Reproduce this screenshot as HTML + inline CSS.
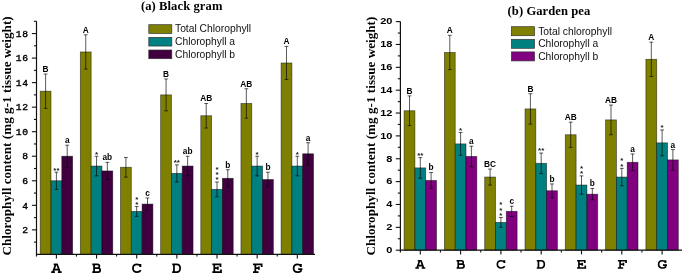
<!DOCTYPE html>
<html><head><meta charset="utf-8"><style>
html,body{margin:0;padding:0;background:#fff;}
svg{display:block;font-family:"Liberation Sans",sans-serif;will-change:transform;}
</style></head><body>
<svg width="685" height="276" viewBox="0 0 685 276">
<rect width="685" height="276" fill="#fff"/>
<rect x="40.20" y="91.21" width="10.80" height="163.19" fill="#808000" stroke="#000" stroke-opacity="0.55" stroke-width="0.8"/>
<path d="M45.60 74.03V108.39M43.70 74.03H47.50M43.70 108.39H47.50" stroke="#000" stroke-width="0.65" fill="none"/>
<text x="45.60" y="72.03" font-size="8.3" font-weight="bold" text-anchor="middle">B</text>
<rect x="51.00" y="180.78" width="10.80" height="73.62" fill="#008080" stroke="#000" stroke-opacity="0.55" stroke-width="0.8"/>
<path d="M56.40 172.19V189.37M54.50 172.19H58.30M54.50 189.37H58.30" stroke="#000" stroke-width="0.65" fill="none"/>
<text x="56.40" y="172.59" font-size="8" fill="#1a1a1a" font-weight="bold" text-anchor="middle">**</text>
<rect x="61.80" y="156.24" width="10.80" height="98.16" fill="#400040" stroke="#000" stroke-opacity="0.55" stroke-width="0.8"/>
<path d="M67.20 145.20V167.28M65.30 145.20H69.10M65.30 167.28H69.10" stroke="#000" stroke-width="0.65" fill="none"/>
<text x="67.20" y="143.20" font-size="8.3" font-weight="bold" text-anchor="middle">a</text>
<rect x="80.35" y="51.95" width="10.80" height="202.45" fill="#808000" stroke="#000" stroke-opacity="0.55" stroke-width="0.8"/>
<path d="M85.75 34.77V69.12M83.85 34.77H87.65M83.85 69.12H87.65" stroke="#000" stroke-width="0.65" fill="none"/>
<text x="85.75" y="32.77" font-size="8.3" font-weight="bold" text-anchor="middle">A</text>
<rect x="91.15" y="166.06" width="10.80" height="88.34" fill="#008080" stroke="#000" stroke-opacity="0.55" stroke-width="0.8"/>
<path d="M96.55 156.24V175.87M94.65 156.24H98.45M94.65 175.87H98.45" stroke="#000" stroke-width="0.65" fill="none"/>
<text x="96.55" y="156.64" font-size="8" fill="#1a1a1a" font-weight="bold" text-anchor="middle">*</text>
<rect x="101.95" y="170.96" width="10.80" height="83.44" fill="#400040" stroke="#000" stroke-opacity="0.55" stroke-width="0.8"/>
<path d="M107.35 162.38V179.55M105.45 162.38H109.25M105.45 179.55H109.25" stroke="#000" stroke-width="0.65" fill="none"/>
<text x="107.35" y="160.38" font-size="8.3" font-weight="bold" text-anchor="middle">ab</text>
<rect x="120.50" y="167.28" width="10.80" height="87.12" fill="#808000" stroke="#000" stroke-opacity="0.55" stroke-width="0.8"/>
<path d="M125.90 157.47V177.10M124.00 157.47H127.80M124.00 177.10H127.80" stroke="#000" stroke-width="0.65" fill="none"/>
<rect x="131.30" y="211.46" width="10.80" height="42.94" fill="#008080" stroke="#000" stroke-opacity="0.55" stroke-width="0.8"/>
<path d="M136.70 206.55V216.36M134.80 206.55H138.60M134.80 216.36H138.60" stroke="#000" stroke-width="0.65" fill="none"/>
<text x="136.70" y="206.95" font-size="8" fill="#1a1a1a" font-weight="bold" text-anchor="middle">*</text>
<text x="136.70" y="201.55" font-size="8" fill="#1a1a1a" font-weight="bold" text-anchor="middle">*</text>
<rect x="142.10" y="204.09" width="10.80" height="50.31" fill="#400040" stroke="#000" stroke-opacity="0.55" stroke-width="0.8"/>
<path d="M147.50 197.96V210.23M145.60 197.96H149.40M145.60 210.23H149.40" stroke="#000" stroke-width="0.65" fill="none"/>
<text x="147.50" y="195.96" font-size="8.3" font-weight="bold" text-anchor="middle">c</text>
<rect x="160.65" y="94.89" width="10.80" height="159.51" fill="#808000" stroke="#000" stroke-opacity="0.55" stroke-width="0.8"/>
<path d="M166.05 78.94V110.84M164.15 78.94H167.95M164.15 110.84H167.95" stroke="#000" stroke-width="0.65" fill="none"/>
<text x="166.05" y="76.94" font-size="8.3" font-weight="bold" text-anchor="middle">B</text>
<rect x="171.45" y="173.42" width="10.80" height="80.98" fill="#008080" stroke="#000" stroke-opacity="0.55" stroke-width="0.8"/>
<path d="M176.85 164.83V182.01M174.95 164.83H178.75M174.95 182.01H178.75" stroke="#000" stroke-width="0.65" fill="none"/>
<text x="176.85" y="165.23" font-size="8" fill="#1a1a1a" font-weight="bold" text-anchor="middle">**</text>
<rect x="182.25" y="166.06" width="10.80" height="88.34" fill="#400040" stroke="#000" stroke-opacity="0.55" stroke-width="0.8"/>
<path d="M187.65 156.24V175.87M185.75 156.24H189.55M185.75 175.87H189.55" stroke="#000" stroke-width="0.65" fill="none"/>
<text x="187.65" y="154.24" font-size="8.3" font-weight="bold" text-anchor="middle">ab</text>
<rect x="200.80" y="115.75" width="10.80" height="138.65" fill="#808000" stroke="#000" stroke-opacity="0.55" stroke-width="0.8"/>
<path d="M206.20 103.48V128.02M204.30 103.48H208.10M204.30 128.02H208.10" stroke="#000" stroke-width="0.65" fill="none"/>
<text x="206.20" y="101.48" font-size="8.3" font-weight="bold" text-anchor="middle">AB</text>
<rect x="211.60" y="189.37" width="10.80" height="65.03" fill="#008080" stroke="#000" stroke-opacity="0.55" stroke-width="0.8"/>
<path d="M217.00 182.01V196.73M215.10 182.01H218.90M215.10 196.73H218.90" stroke="#000" stroke-width="0.65" fill="none"/>
<text x="217.00" y="182.41" font-size="8" fill="#1a1a1a" font-weight="bold" text-anchor="middle">*</text>
<text x="217.00" y="177.01" font-size="8" fill="#1a1a1a" font-weight="bold" text-anchor="middle">*</text>
<text x="217.00" y="171.61" font-size="8" fill="#1a1a1a" font-weight="bold" text-anchor="middle">*</text>
<rect x="222.40" y="178.33" width="10.80" height="76.07" fill="#400040" stroke="#000" stroke-opacity="0.55" stroke-width="0.8"/>
<path d="M227.80 169.74V186.92M225.90 169.74H229.70M225.90 186.92H229.70" stroke="#000" stroke-width="0.65" fill="none"/>
<text x="227.80" y="167.74" font-size="8.3" font-weight="bold" text-anchor="middle">b</text>
<rect x="240.95" y="103.48" width="10.80" height="150.92" fill="#808000" stroke="#000" stroke-opacity="0.55" stroke-width="0.8"/>
<path d="M246.35 88.76V118.20M244.45 88.76H248.25M244.45 118.20H248.25" stroke="#000" stroke-width="0.65" fill="none"/>
<text x="246.35" y="86.76" font-size="8.3" font-weight="bold" text-anchor="middle">AB</text>
<rect x="251.75" y="166.06" width="10.80" height="88.34" fill="#008080" stroke="#000" stroke-opacity="0.55" stroke-width="0.8"/>
<path d="M257.15 156.24V175.87M255.25 156.24H259.05M255.25 175.87H259.05" stroke="#000" stroke-width="0.65" fill="none"/>
<text x="257.15" y="156.64" font-size="8" fill="#1a1a1a" font-weight="bold" text-anchor="middle">*</text>
<rect x="262.55" y="179.55" width="10.80" height="74.85" fill="#400040" stroke="#000" stroke-opacity="0.55" stroke-width="0.8"/>
<path d="M267.95 172.19V186.91M266.05 172.19H269.85M266.05 186.91H269.85" stroke="#000" stroke-width="0.65" fill="none"/>
<text x="267.95" y="170.19" font-size="8.3" font-weight="bold" text-anchor="middle">b</text>
<rect x="281.10" y="62.99" width="10.80" height="191.41" fill="#808000" stroke="#000" stroke-opacity="0.55" stroke-width="0.8"/>
<path d="M286.50 46.42V79.55M284.60 46.42H288.40M284.60 79.55H288.40" stroke="#000" stroke-width="0.65" fill="none"/>
<text x="286.50" y="44.42" font-size="8.3" font-weight="bold" text-anchor="middle">A</text>
<rect x="291.90" y="166.06" width="10.80" height="88.34" fill="#008080" stroke="#000" stroke-opacity="0.55" stroke-width="0.8"/>
<path d="M297.30 156.24V175.87M295.40 156.24H299.20M295.40 175.87H299.20" stroke="#000" stroke-width="0.65" fill="none"/>
<text x="297.30" y="156.64" font-size="8" fill="#1a1a1a" font-weight="bold" text-anchor="middle">*</text>
<rect x="302.70" y="153.79" width="10.80" height="100.61" fill="#400040" stroke="#000" stroke-opacity="0.55" stroke-width="0.8"/>
<path d="M308.10 142.74V164.83M306.20 142.74H310.00M306.20 164.83H310.00" stroke="#000" stroke-width="0.65" fill="none"/>
<text x="308.10" y="140.74" font-size="8.3" font-weight="bold" text-anchor="middle">a</text>
<path d="M36.5 21.27V256.6M35.9 254.4H315" stroke="#111" stroke-width="1.2" fill="none"/>
<path d="M31.9 229.86H36.5" stroke="#111" stroke-width="1.1"/>
<text x="28.5" y="233.06" font-family="Liberation Mono" font-size="9.7" stroke="#000" stroke-width="0.4" letter-spacing="0.5" text-anchor="end">2</text>
<path d="M31.9 205.32H36.5" stroke="#111" stroke-width="1.1"/>
<text x="28.5" y="208.52" font-family="Liberation Mono" font-size="9.7" stroke="#000" stroke-width="0.4" letter-spacing="0.5" text-anchor="end">4</text>
<path d="M31.9 180.78H36.5" stroke="#111" stroke-width="1.1"/>
<text x="28.5" y="183.98" font-family="Liberation Mono" font-size="9.7" stroke="#000" stroke-width="0.4" letter-spacing="0.5" text-anchor="end">6</text>
<path d="M31.9 156.24H36.5" stroke="#111" stroke-width="1.1"/>
<text x="28.5" y="159.44" font-family="Liberation Mono" font-size="9.7" stroke="#000" stroke-width="0.4" letter-spacing="0.5" text-anchor="end">8</text>
<path d="M31.9 131.70H36.5" stroke="#111" stroke-width="1.1"/>
<text x="28.5" y="134.90" font-family="Liberation Mono" font-size="9.7" stroke="#000" stroke-width="0.4" letter-spacing="0.5" text-anchor="end">10</text>
<path d="M31.9 107.16H36.5" stroke="#111" stroke-width="1.1"/>
<text x="28.5" y="110.36" font-family="Liberation Mono" font-size="9.7" stroke="#000" stroke-width="0.4" letter-spacing="0.5" text-anchor="end">12</text>
<path d="M31.9 82.62H36.5" stroke="#111" stroke-width="1.1"/>
<text x="28.5" y="85.82" font-family="Liberation Mono" font-size="9.7" stroke="#000" stroke-width="0.4" letter-spacing="0.5" text-anchor="end">14</text>
<path d="M31.9 58.08H36.5" stroke="#111" stroke-width="1.1"/>
<text x="28.5" y="61.28" font-family="Liberation Mono" font-size="9.7" stroke="#000" stroke-width="0.4" letter-spacing="0.5" text-anchor="end">16</text>
<path d="M31.9 33.54H36.5" stroke="#111" stroke-width="1.1"/>
<text x="28.5" y="36.74" font-family="Liberation Mono" font-size="9.7" stroke="#000" stroke-width="0.4" letter-spacing="0.5" text-anchor="end">18</text>
<path d="M33.9 242.13H36.5" stroke="#111" stroke-width="1.1"/>
<path d="M33.9 217.59H36.5" stroke="#111" stroke-width="1.1"/>
<path d="M33.9 193.05H36.5" stroke="#111" stroke-width="1.1"/>
<path d="M33.9 168.51H36.5" stroke="#111" stroke-width="1.1"/>
<path d="M33.9 143.97H36.5" stroke="#111" stroke-width="1.1"/>
<path d="M33.9 119.43H36.5" stroke="#111" stroke-width="1.1"/>
<path d="M33.9 94.89H36.5" stroke="#111" stroke-width="1.1"/>
<path d="M33.9 70.35H36.5" stroke="#111" stroke-width="1.1"/>
<path d="M33.9 45.81H36.5" stroke="#111" stroke-width="1.1"/>
<path d="M33.9 21.27H36.5" stroke="#111" stroke-width="1.1"/>
<path d="M56.40 254.4v4.2" stroke="#111" stroke-width="1.1"/>
<path transform="translate(56.40,263.60) scale(1.0,1.0)" d="M-5.25 8.525H-1.5M1.5 8.525H5.25M-3.45 8.525L-0.75 0.875M3.45 8.525L0.75 0.875M-2.7 0.875H1.3M-2.3 6.0H2.3" fill="none" stroke="#000" stroke-width="1.75" stroke-linejoin="miter"/>
<path d="M96.55 254.4v4.2" stroke="#111" stroke-width="1.1"/>
<path d="M76.47 254.4v2.2" stroke="#111" stroke-width="1.1"/>
<path transform="translate(96.65,263.60) scale(1.0,1.0)" d="M-4.35 0.875H0.9A1.7875 1.7875 0 0 1 0.9 4.45M-2.6 0.875V8.525M-2.6 4.45H1.5A2.0375 2.0375 0 0 1 1.5 8.525H-4.35" fill="none" stroke="#000" stroke-width="1.75" stroke-linejoin="miter"/>
<path d="M136.70 254.4v4.2" stroke="#111" stroke-width="1.1"/>
<path d="M116.62 254.4v2.2" stroke="#111" stroke-width="1.1"/>
<path transform="translate(136.70,263.60) scale(1.0,1.0)" d="M3.75 0.3V3.3M3.6 2.6C2.9 1.4 1.8 0.875 0.3 0.875C-2.2 0.875 -3.75 2.3 -3.75 4.7C-3.75 7.1 -2.2 8.525 0.4 8.525C2.0 8.525 3.3 7.9 4.1 6.7" fill="none" stroke="#000" stroke-width="1.75" stroke-linejoin="miter"/>
<path d="M176.85 254.4v4.2" stroke="#111" stroke-width="1.1"/>
<path d="M156.78 254.4v2.2" stroke="#111" stroke-width="1.1"/>
<path transform="translate(176.65,263.60) scale(1.0,1.0)" d="M-4.45 0.875H0C2.4 0.875 3.5 2.5 3.5 4.7C3.5 6.9 2.4 8.525 0 8.525H-4.45M-2.7 0.875V8.525" fill="none" stroke="#000" stroke-width="1.75" stroke-linejoin="miter"/>
<path d="M217.00 254.4v4.2" stroke="#111" stroke-width="1.1"/>
<path d="M196.93 254.4v2.2" stroke="#111" stroke-width="1.1"/>
<path transform="translate(216.90,263.60) scale(1.0,1.0)" d="M-4.55 0.875H4.0M3.6 0V3.3M-4.55 8.525H4.55M4.1 9.4V5.9M-2.6 0.875V8.525M-2.6 4.5H1.3M0.9 2.9V6.1" fill="none" stroke="#000" stroke-width="1.75" stroke-linejoin="miter"/>
<path d="M257.15 254.4v4.2" stroke="#111" stroke-width="1.1"/>
<path d="M237.07 254.4v2.2" stroke="#111" stroke-width="1.1"/>
<path transform="translate(257.55,263.60) scale(1.0,1.0)" d="M-4.55 0.875H4.55M4.1 0V3.3M-4.55 8.525H1.0M-2.2 0.875V8.525M-2.2 4.6H1.7M1.3 3.0V6.2" fill="none" stroke="#000" stroke-width="1.75" stroke-linejoin="miter"/>
<path d="M297.30 254.4v4.2" stroke="#111" stroke-width="1.1"/>
<path d="M277.22 254.4v2.2" stroke="#111" stroke-width="1.1"/>
<path transform="translate(297.60,263.60) scale(1.0,1.0)" d="M3.3 0.3V3.3M3.2 2.6C2.5 1.4 1.5 0.875 0.0 0.875C-2.5 0.875 -4.0 2.3 -4.0 4.7C-4.0 7.1 -2.5 8.525 0.0 8.525C1.4 8.525 2.6 8.3 3.3 7.6V5.5M0.6 5.5H4.85" fill="none" stroke="#000" stroke-width="1.75" stroke-linejoin="miter"/>
<text x="140.9" y="10.4" font-family="Liberation Serif" font-size="12.6" font-weight="bold" textLength="81.5" lengthAdjust="spacing">(a) Black gram</text>
<rect x="148.8" y="24.70" width="23" height="8.7" fill="#808000" stroke="#333" stroke-width="0.7"/>
<text x="175" y="32.40" font-size="10.3" fill="#111">Total Chlorophyll</text>
<rect x="148.8" y="37.35" width="23" height="8.7" fill="#008080" stroke="#333" stroke-width="0.7"/>
<text x="175" y="45.05" font-size="10.3" fill="#111">Chlorophyll a</text>
<rect x="148.8" y="50.00" width="23" height="8.7" fill="#400040" stroke="#333" stroke-width="0.7"/>
<text x="175" y="57.70" font-size="10.3" fill="#111">Chlorophyll b</text>
<text transform="translate(10.9,255.6) rotate(-90)" font-family="Liberation Serif" font-size="13.1" font-weight="bold" textLength="239.3" lengthAdjust="spacing">Chlorophyll content (mg g-1 tissue weight)</text>
<rect x="404.10" y="110.75" width="10.80" height="139.45" fill="#808000" stroke="#000" stroke-opacity="0.55" stroke-width="0.8"/>
<path d="M409.50 95.89V125.61M407.60 95.89H411.40M407.60 125.61H411.40" stroke="#000" stroke-width="0.65" fill="none"/>
<text x="409.50" y="93.89" font-size="8.3" font-weight="bold" text-anchor="middle">B</text>
<rect x="414.90" y="167.90" width="10.80" height="82.30" fill="#008080" stroke="#000" stroke-opacity="0.55" stroke-width="0.8"/>
<path d="M420.30 157.62V178.19M418.40 157.62H422.20M418.40 178.19H422.20" stroke="#000" stroke-width="0.65" fill="none"/>
<text x="420.30" y="158.02" font-size="8" fill="#1a1a1a" font-weight="bold" text-anchor="middle">**</text>
<rect x="425.70" y="180.48" width="10.80" height="69.72" fill="#800080" stroke="#000" stroke-opacity="0.55" stroke-width="0.8"/>
<path d="M431.10 172.48V188.48M429.20 172.48H433.00M429.20 188.48H433.00" stroke="#000" stroke-width="0.65" fill="none"/>
<text x="431.10" y="170.48" font-size="8.3" font-weight="bold" text-anchor="middle">b</text>
<rect x="444.40" y="52.46" width="10.80" height="197.74" fill="#808000" stroke="#000" stroke-opacity="0.55" stroke-width="0.8"/>
<path d="M449.80 35.32V69.61M447.90 35.32H451.70M447.90 69.61H451.70" stroke="#000" stroke-width="0.65" fill="none"/>
<text x="449.80" y="33.32" font-size="8.3" font-weight="bold" text-anchor="middle">A</text>
<rect x="455.20" y="143.90" width="10.80" height="106.30" fill="#008080" stroke="#000" stroke-opacity="0.55" stroke-width="0.8"/>
<path d="M460.60 132.47V155.33M458.70 132.47H462.50M458.70 155.33H462.50" stroke="#000" stroke-width="0.65" fill="none"/>
<text x="460.60" y="132.87" font-size="8" fill="#1a1a1a" font-weight="bold" text-anchor="middle">*</text>
<rect x="466.00" y="156.47" width="10.80" height="93.73" fill="#800080" stroke="#000" stroke-opacity="0.55" stroke-width="0.8"/>
<path d="M471.40 146.19V166.76M469.50 146.19H473.30M469.50 166.76H473.30" stroke="#000" stroke-width="0.65" fill="none"/>
<text x="471.40" y="144.19" font-size="8.3" font-weight="bold" text-anchor="middle">a</text>
<rect x="484.70" y="177.05" width="10.80" height="73.15" fill="#808000" stroke="#000" stroke-opacity="0.55" stroke-width="0.8"/>
<path d="M490.10 169.05V185.05M488.20 169.05H492.00M488.20 185.05H492.00" stroke="#000" stroke-width="0.65" fill="none"/>
<text x="490.10" y="167.05" font-size="8.3" font-weight="bold" text-anchor="middle">BC</text>
<rect x="495.50" y="222.43" width="10.80" height="27.77" fill="#008080" stroke="#000" stroke-opacity="0.55" stroke-width="0.8"/>
<path d="M500.90 217.51V227.34M499.00 217.51H502.80M499.00 227.34H502.80" stroke="#000" stroke-width="0.65" fill="none"/>
<text x="500.90" y="217.91" font-size="8" fill="#1a1a1a" font-weight="bold" text-anchor="middle">*</text>
<text x="500.90" y="212.61" font-size="8" fill="#1a1a1a" font-weight="bold" text-anchor="middle">*</text>
<text x="500.90" y="207.31" font-size="8" fill="#1a1a1a" font-weight="bold" text-anchor="middle">*</text>
<rect x="506.30" y="211.34" width="10.80" height="38.86" fill="#800080" stroke="#000" stroke-opacity="0.55" stroke-width="0.8"/>
<path d="M511.70 206.19V216.48M509.80 206.19H513.60M509.80 216.48H513.60" stroke="#000" stroke-width="0.65" fill="none"/>
<text x="511.70" y="204.19" font-size="8.3" font-weight="bold" text-anchor="middle">c</text>
<rect x="525.00" y="108.93" width="10.80" height="141.27" fill="#808000" stroke="#000" stroke-opacity="0.55" stroke-width="0.8"/>
<path d="M530.40 93.72V124.13M528.50 93.72H532.30M528.50 124.13H532.30" stroke="#000" stroke-width="0.65" fill="none"/>
<text x="530.40" y="91.72" font-size="8.3" font-weight="bold" text-anchor="middle">B</text>
<rect x="535.80" y="163.33" width="10.80" height="86.87" fill="#008080" stroke="#000" stroke-opacity="0.55" stroke-width="0.8"/>
<path d="M541.20 153.04V173.62M539.30 153.04H543.10M539.30 173.62H543.10" stroke="#000" stroke-width="0.65" fill="none"/>
<text x="541.20" y="153.44" font-size="8" fill="#1a1a1a" font-weight="bold" text-anchor="middle">**</text>
<rect x="546.60" y="190.76" width="10.80" height="59.44" fill="#800080" stroke="#000" stroke-opacity="0.55" stroke-width="0.8"/>
<path d="M552.00 183.91V197.62M550.10 183.91H553.90M550.10 197.62H553.90" stroke="#000" stroke-width="0.65" fill="none"/>
<text x="552.00" y="181.91" font-size="8.3" font-weight="bold" text-anchor="middle">b</text>
<rect x="565.30" y="134.76" width="10.80" height="115.44" fill="#808000" stroke="#000" stroke-opacity="0.55" stroke-width="0.8"/>
<path d="M570.70 122.18V147.33M568.80 122.18H572.60M568.80 147.33H572.60" stroke="#000" stroke-width="0.65" fill="none"/>
<text x="570.70" y="120.18" font-size="8.3" font-weight="bold" text-anchor="middle">AB</text>
<rect x="576.10" y="185.05" width="10.80" height="65.15" fill="#008080" stroke="#000" stroke-opacity="0.55" stroke-width="0.8"/>
<path d="M581.50 175.90V194.19M579.60 175.90H583.40M579.60 194.19H583.40" stroke="#000" stroke-width="0.65" fill="none"/>
<text x="581.50" y="176.30" font-size="8" fill="#1a1a1a" font-weight="bold" text-anchor="middle">*</text>
<text x="581.50" y="171.00" font-size="8" fill="#1a1a1a" font-weight="bold" text-anchor="middle">*</text>
<rect x="586.90" y="194.19" width="10.80" height="56.01" fill="#800080" stroke="#000" stroke-opacity="0.55" stroke-width="0.8"/>
<path d="M592.30 188.48V199.91M590.40 188.48H594.20M590.40 199.91H594.20" stroke="#000" stroke-width="0.65" fill="none"/>
<text x="592.30" y="186.48" font-size="8.3" font-weight="bold" text-anchor="middle">b</text>
<rect x="605.60" y="119.90" width="10.80" height="130.30" fill="#808000" stroke="#000" stroke-opacity="0.55" stroke-width="0.8"/>
<path d="M611.00 105.04V134.76M609.10 105.04H612.90M609.10 134.76H612.90" stroke="#000" stroke-width="0.65" fill="none"/>
<text x="611.00" y="103.04" font-size="8.3" font-weight="bold" text-anchor="middle">AB</text>
<rect x="616.40" y="177.05" width="10.80" height="73.15" fill="#008080" stroke="#000" stroke-opacity="0.55" stroke-width="0.8"/>
<path d="M621.80 168.36V185.73M619.90 168.36H623.70M619.90 185.73H623.70" stroke="#000" stroke-width="0.65" fill="none"/>
<text x="621.80" y="168.76" font-size="8" fill="#1a1a1a" font-weight="bold" text-anchor="middle">*</text>
<text x="621.80" y="163.46" font-size="8" fill="#1a1a1a" font-weight="bold" text-anchor="middle">*</text>
<rect x="627.20" y="162.30" width="10.80" height="87.90" fill="#800080" stroke="#000" stroke-opacity="0.55" stroke-width="0.8"/>
<path d="M632.60 153.96V170.65M630.70 153.96H634.50M630.70 170.65H634.50" stroke="#000" stroke-width="0.65" fill="none"/>
<text x="632.60" y="151.96" font-size="8.3" font-weight="bold" text-anchor="middle">a</text>
<rect x="645.90" y="59.32" width="10.80" height="190.88" fill="#808000" stroke="#000" stroke-opacity="0.55" stroke-width="0.8"/>
<path d="M651.30 42.17V76.46M649.40 42.17H653.20M649.40 76.46H653.20" stroke="#000" stroke-width="0.65" fill="none"/>
<text x="651.30" y="40.17" font-size="8.3" font-weight="bold" text-anchor="middle">A</text>
<rect x="656.70" y="142.87" width="10.80" height="107.33" fill="#008080" stroke="#000" stroke-opacity="0.55" stroke-width="0.8"/>
<path d="M662.10 129.96V155.79M660.20 129.96H664.00M660.20 155.79H664.00" stroke="#000" stroke-width="0.65" fill="none"/>
<text x="662.10" y="130.36" font-size="8" fill="#1a1a1a" font-weight="bold" text-anchor="middle">*</text>
<rect x="667.50" y="159.90" width="10.80" height="90.30" fill="#800080" stroke="#000" stroke-opacity="0.55" stroke-width="0.8"/>
<path d="M672.90 149.62V170.19M671.00 149.62H674.80M671.00 170.19H674.80" stroke="#000" stroke-width="0.65" fill="none"/>
<text x="672.90" y="147.62" font-size="8.3" font-weight="bold" text-anchor="middle">a</text>
<path d="M400.4 21.60V252.39999999999998M399.79999999999995 250.2H682" stroke="#111" stroke-width="1.2" fill="none"/>
<path d="M395.79999999999995 250.20H400.4" stroke="#111" stroke-width="1.1"/>
<text transform="translate(392.4,253.00) scale(1.25,1)" font-family="Liberation Sans" font-size="8.8" font-weight="bold" text-anchor="end">0</text>
<path d="M395.79999999999995 227.34H400.4" stroke="#111" stroke-width="1.1"/>
<text transform="translate(392.4,230.14) scale(1.25,1)" font-family="Liberation Sans" font-size="8.8" font-weight="bold" text-anchor="end">2</text>
<path d="M395.79999999999995 204.48H400.4" stroke="#111" stroke-width="1.1"/>
<text transform="translate(392.4,207.28) scale(1.25,1)" font-family="Liberation Sans" font-size="8.8" font-weight="bold" text-anchor="end">4</text>
<path d="M395.79999999999995 181.62H400.4" stroke="#111" stroke-width="1.1"/>
<text transform="translate(392.4,184.42) scale(1.25,1)" font-family="Liberation Sans" font-size="8.8" font-weight="bold" text-anchor="end">6</text>
<path d="M395.79999999999995 158.76H400.4" stroke="#111" stroke-width="1.1"/>
<text transform="translate(392.4,161.56) scale(1.25,1)" font-family="Liberation Sans" font-size="8.8" font-weight="bold" text-anchor="end">8</text>
<path d="M395.79999999999995 135.90H400.4" stroke="#111" stroke-width="1.1"/>
<text transform="translate(392.4,138.70) scale(1.25,1)" font-family="Liberation Sans" font-size="8.8" font-weight="bold" text-anchor="end">10</text>
<path d="M395.79999999999995 113.04H400.4" stroke="#111" stroke-width="1.1"/>
<text transform="translate(392.4,115.84) scale(1.25,1)" font-family="Liberation Sans" font-size="8.8" font-weight="bold" text-anchor="end">12</text>
<path d="M395.79999999999995 90.18H400.4" stroke="#111" stroke-width="1.1"/>
<text transform="translate(392.4,92.98) scale(1.25,1)" font-family="Liberation Sans" font-size="8.8" font-weight="bold" text-anchor="end">14</text>
<path d="M395.79999999999995 67.32H400.4" stroke="#111" stroke-width="1.1"/>
<text transform="translate(392.4,70.12) scale(1.25,1)" font-family="Liberation Sans" font-size="8.8" font-weight="bold" text-anchor="end">16</text>
<path d="M395.79999999999995 44.46H400.4" stroke="#111" stroke-width="1.1"/>
<text transform="translate(392.4,47.26) scale(1.25,1)" font-family="Liberation Sans" font-size="8.8" font-weight="bold" text-anchor="end">18</text>
<path d="M395.79999999999995 21.60H400.4" stroke="#111" stroke-width="1.1"/>
<text transform="translate(392.4,24.40) scale(1.25,1)" font-family="Liberation Sans" font-size="8.8" font-weight="bold" text-anchor="end">20</text>
<path d="M397.79999999999995 238.77H400.4" stroke="#111" stroke-width="1.1"/>
<path d="M397.79999999999995 215.91H400.4" stroke="#111" stroke-width="1.1"/>
<path d="M397.79999999999995 193.05H400.4" stroke="#111" stroke-width="1.1"/>
<path d="M397.79999999999995 170.19H400.4" stroke="#111" stroke-width="1.1"/>
<path d="M397.79999999999995 147.33H400.4" stroke="#111" stroke-width="1.1"/>
<path d="M397.79999999999995 124.47H400.4" stroke="#111" stroke-width="1.1"/>
<path d="M397.79999999999995 101.61H400.4" stroke="#111" stroke-width="1.1"/>
<path d="M397.79999999999995 78.75H400.4" stroke="#111" stroke-width="1.1"/>
<path d="M397.79999999999995 55.89H400.4" stroke="#111" stroke-width="1.1"/>
<path d="M397.79999999999995 33.03H400.4" stroke="#111" stroke-width="1.1"/>
<path d="M420.30 250.2v4.2" stroke="#111" stroke-width="1.1"/>
<path transform="translate(420.30,259.90) scale(0.95,0.95)" d="M-5.25 8.525H-1.5M1.5 8.525H5.25M-3.45 8.525L-0.75 0.875M3.45 8.525L0.75 0.875M-2.7 0.875H1.3M-2.3 6.0H2.3" fill="none" stroke="#000" stroke-width="1.75" stroke-linejoin="miter"/>
<path d="M460.60 250.2v4.2" stroke="#111" stroke-width="1.1"/>
<path d="M440.45 250.2v2.2" stroke="#111" stroke-width="1.1"/>
<path transform="translate(460.70,259.90) scale(0.95,0.95)" d="M-4.35 0.875H0.9A1.7875 1.7875 0 0 1 0.9 4.45M-2.6 0.875V8.525M-2.6 4.45H1.5A2.0375 2.0375 0 0 1 1.5 8.525H-4.35" fill="none" stroke="#000" stroke-width="1.75" stroke-linejoin="miter"/>
<path d="M500.90 250.2v4.2" stroke="#111" stroke-width="1.1"/>
<path d="M480.75 250.2v2.2" stroke="#111" stroke-width="1.1"/>
<path transform="translate(500.90,259.90) scale(0.95,0.95)" d="M3.75 0.3V3.3M3.6 2.6C2.9 1.4 1.8 0.875 0.3 0.875C-2.2 0.875 -3.75 2.3 -3.75 4.7C-3.75 7.1 -2.2 8.525 0.4 8.525C2.0 8.525 3.3 7.9 4.1 6.7" fill="none" stroke="#000" stroke-width="1.75" stroke-linejoin="miter"/>
<path d="M541.20 250.2v4.2" stroke="#111" stroke-width="1.1"/>
<path d="M521.05 250.2v2.2" stroke="#111" stroke-width="1.1"/>
<path transform="translate(541.00,259.90) scale(0.95,0.95)" d="M-4.45 0.875H0C2.4 0.875 3.5 2.5 3.5 4.7C3.5 6.9 2.4 8.525 0 8.525H-4.45M-2.7 0.875V8.525" fill="none" stroke="#000" stroke-width="1.75" stroke-linejoin="miter"/>
<path d="M581.50 250.2v4.2" stroke="#111" stroke-width="1.1"/>
<path d="M561.35 250.2v2.2" stroke="#111" stroke-width="1.1"/>
<path transform="translate(581.40,259.90) scale(0.95,0.95)" d="M-4.55 0.875H4.0M3.6 0V3.3M-4.55 8.525H4.55M4.1 9.4V5.9M-2.6 0.875V8.525M-2.6 4.5H1.3M0.9 2.9V6.1" fill="none" stroke="#000" stroke-width="1.75" stroke-linejoin="miter"/>
<path d="M621.80 250.2v4.2" stroke="#111" stroke-width="1.1"/>
<path d="M601.65 250.2v2.2" stroke="#111" stroke-width="1.1"/>
<path transform="translate(622.20,259.90) scale(0.95,0.95)" d="M-4.55 0.875H4.55M4.1 0V3.3M-4.55 8.525H1.0M-2.2 0.875V8.525M-2.2 4.6H1.7M1.3 3.0V6.2" fill="none" stroke="#000" stroke-width="1.75" stroke-linejoin="miter"/>
<path d="M662.10 250.2v4.2" stroke="#111" stroke-width="1.1"/>
<path d="M641.95 250.2v2.2" stroke="#111" stroke-width="1.1"/>
<path transform="translate(662.40,259.90) scale(0.95,0.95)" d="M3.3 0.3V3.3M3.2 2.6C2.5 1.4 1.5 0.875 0.0 0.875C-2.5 0.875 -4.0 2.3 -4.0 4.7C-4.0 7.1 -2.5 8.525 0.0 8.525C1.4 8.525 2.6 8.3 3.3 7.6V5.5M0.6 5.5H4.85" fill="none" stroke="#000" stroke-width="1.75" stroke-linejoin="miter"/>
<text x="507.6" y="15" font-family="Liberation Serif" font-size="12.6" font-weight="bold" textLength="82.6" lengthAdjust="spacing">(b) Garden pea</text>
<rect x="511.4" y="26.70" width="23.1" height="9" fill="#808000" stroke="#333" stroke-width="0.7"/>
<text x="538.2" y="34.50" font-size="10.3" fill="#111">Total chlorophyll</text>
<rect x="511.4" y="39.30" width="23.1" height="9" fill="#008080" stroke="#333" stroke-width="0.7"/>
<text x="538.2" y="47.10" font-size="10.3" fill="#111">Chlorophyll a</text>
<rect x="511.4" y="51.90" width="23.1" height="9" fill="#800080" stroke="#333" stroke-width="0.7"/>
<text x="538.2" y="59.70" font-size="10.3" fill="#111">Chlorophyll b</text>
<text transform="translate(374.6,255.6) rotate(-90)" font-family="Liberation Serif" font-size="13.1" font-weight="bold" textLength="239.0" lengthAdjust="spacing">Chlorophyll content (mg g-1 tissue weight)</text>
</svg>
</body></html>
